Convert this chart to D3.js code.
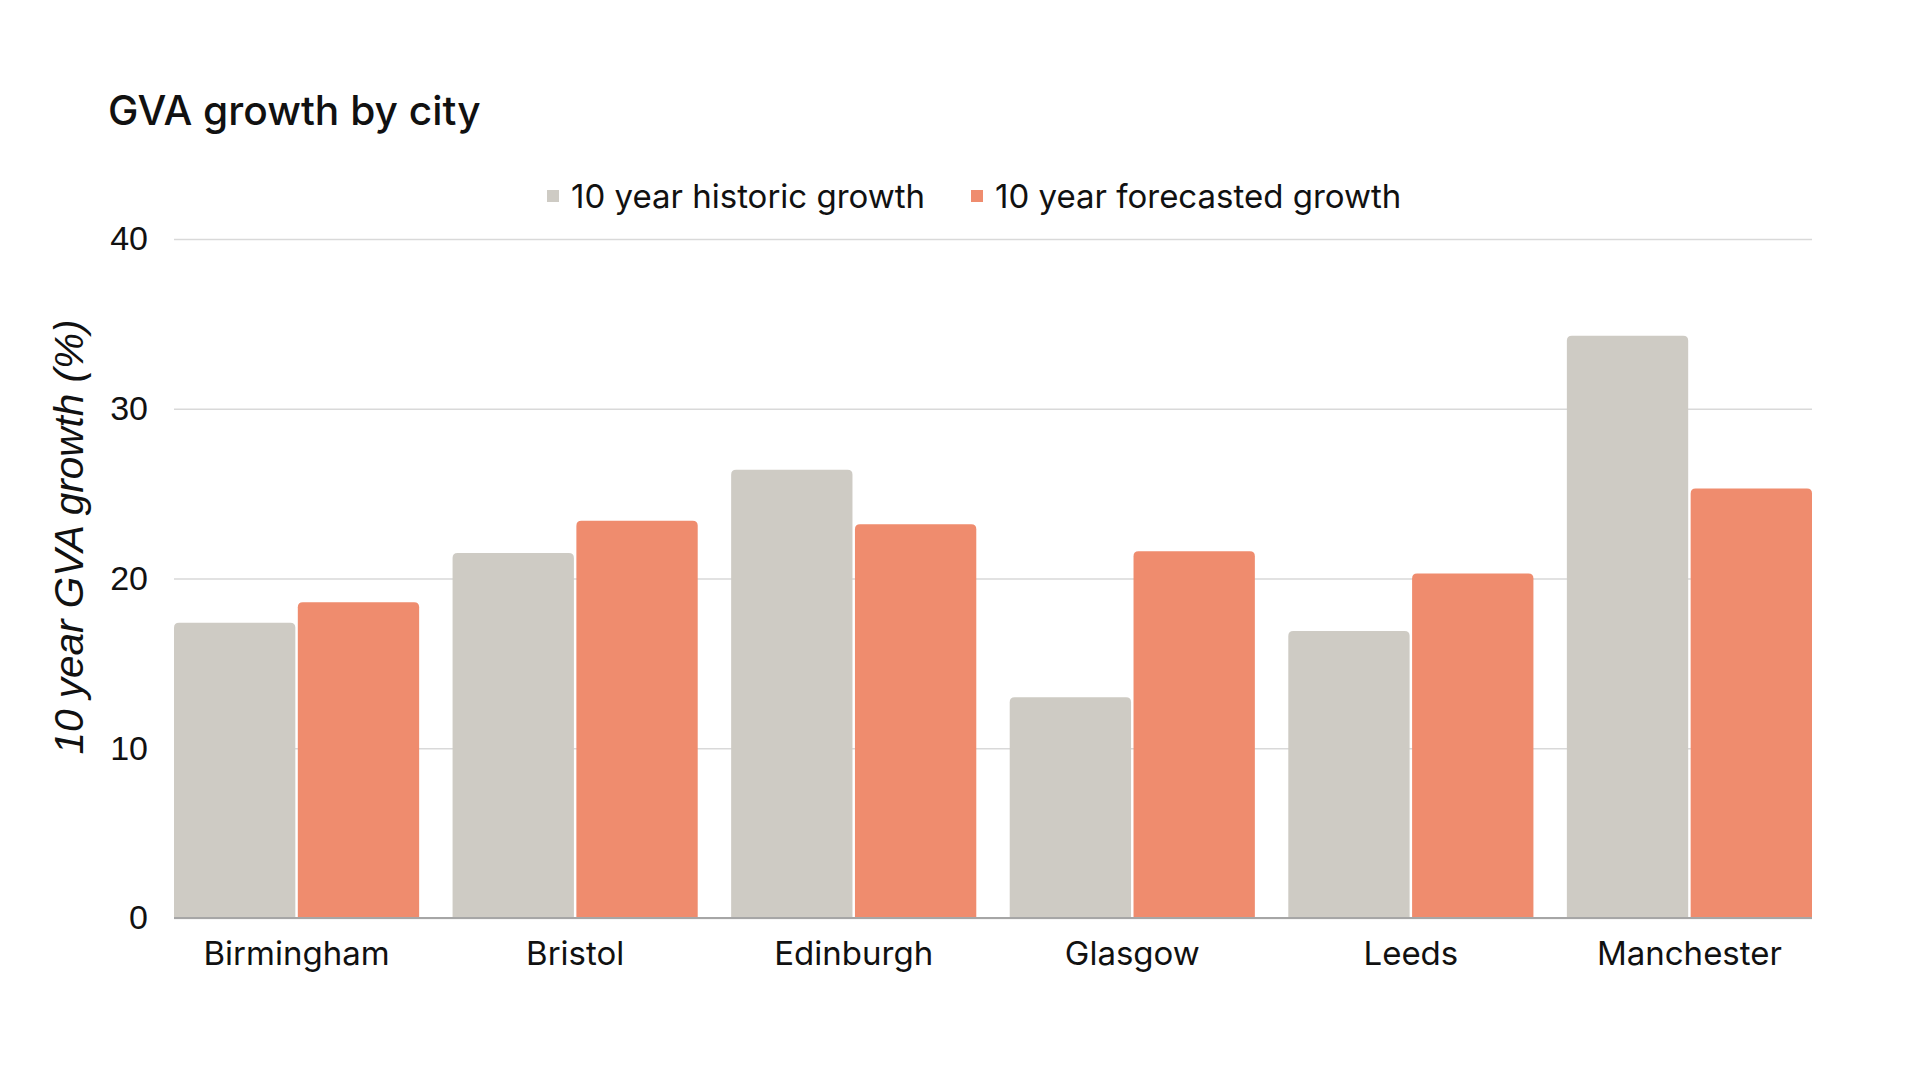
<!DOCTYPE html>
<html>
<head>
<meta charset="utf-8">
<script src="https://cdn.jsdelivr.net/npm/d3@7"></script>
<style>
  html, body { margin: 0; padding: 0; background: #ffffff; }
  svg { display: block; }
</style>
</head>
<body>
<svg id="chart" width="1920" height="1080"></svg>
<script>
const cities = ["Birmingham", "Bristol", "Edinburgh", "Glasgow", "Leeds", "Manchester"];
const seriesNames = ["10 year historic growth", "10 year forecasted growth"];
const historic = [17.4, 21.5, 26.4, 13.0, 16.9, 34.3];
const forecast = [18.6, 23.4, 23.2, 21.6, 20.3, 25.3];
const yTicks = [0, 10, 20, 30, 40];
const colors = ["#cecbc4", "#ef8c6e"];
const titleText = "GVA growth by city";
const yTitle = "10 year GVA growth (%)";

const svg = d3.select("#chart");
const margin = { left: 174, right: 108, top: 239, bottom: 162 };
const W = 1920, H = 1080;
const x0 = d3.scaleBand().domain(cities).range([margin.left, W - margin.right]).paddingInner(0.12).paddingOuter(0);
const x1 = d3.scaleBand().domain([0, 1]).range([0, x0.bandwidth()]).paddingInner(0.02);
const y = d3.scaleLinear().domain([0, 40]).range([H - margin.bottom, margin.top]);

const textFont = "Inter, 'Libre Franklin', 'Noto Sans', sans-serif";
const numFont = "'Liberation Sans', Arial, sans-serif";

// Title
svg.append("text").attr("x", 108).attr("y", 125)
  .attr("font-family", textFont).attr("font-size", 40.7).attr("font-weight", 500)
  .attr("fill", "#111").text(titleText);

// Gridlines
const yAxis = d3.axisLeft(y).tickValues(yTicks).tickSize(-(W - margin.left - margin.right)).tickPadding(26).tickFormat(d3.format("d"));
const gy = svg.append("g").attr("transform", `translate(${margin.left},0)`).call(yAxis);
gy.select(".domain").remove();
gy.selectAll(".tick line").attr("stroke", "#d9d9d9").attr("stroke-width", 1.5);
gy.selectAll(".tick text").attr("font-family", numFont).attr("font-size", 34).attr("fill", "#111");

// Bars
const rr = 5;
function topRounded(xp, yp, w, h, r) {
  r = Math.min(r, h, w / 2);
  return `M${xp},${yp + h}V${yp + r}Q${xp},${yp} ${xp + r},${yp}H${xp + w - r}Q${xp + w},${yp} ${xp + w},${yp + r}V${yp + h}Z`;
}
const data = cities.map((c, i) => ({ city: c, vals: [historic[i], forecast[i]] }));
const groups = svg.append("g").selectAll("g").data(data).join("g")
  .attr("transform", d => `translate(${x0(d.city)},0)`);
groups.selectAll("path").data(d => d.vals.map((v, k) => ({ v, k }))).join("path")
  .attr("d", d => topRounded(x1(d.k), y(d.v), x1.bandwidth(), y(0) - y(d.v), rr))
  .attr("fill", d => colors[d.k]);

// Baseline
svg.append("line").attr("x1", margin.left).attr("x2", W - margin.right)
  .attr("y1", y(0)).attr("y2", y(0)).attr("stroke", "#a6a6a6").attr("stroke-width", 2);

// X axis labels
const xAxis = d3.axisBottom(x0).tickSize(0).tickPadding(24);
const gx = svg.append("g").attr("transform", `translate(0,${y(0)})`).call(xAxis);
gx.select(".domain").remove();
gx.selectAll(".tick text").attr("font-family", textFont).attr("font-size", 33).attr("fill", "#111");

// Y title
svg.append("text").attr("transform", `translate(83,537) rotate(-90)`)
  .attr("text-anchor", "middle").attr("font-family", numFont).attr("font-style", "italic")
  .attr("font-size", 40.5).attr("fill", "#111").text(yTitle);

// Legend
const legend = svg.append("g");
const legX = [547, 971];
seriesNames.forEach((s, i) => {
  legend.append("rect").attr("x", legX[i]).attr("y", 190).attr("width", 12).attr("height", 12).attr("fill", colors[i]);
  legend.append("text").attr("x", legX[i] + 24).attr("y", 208)
    .attr("font-family", textFont).attr("font-size", 33).attr("fill", "#111").text(s);
});
</script>
</body>
</html>
